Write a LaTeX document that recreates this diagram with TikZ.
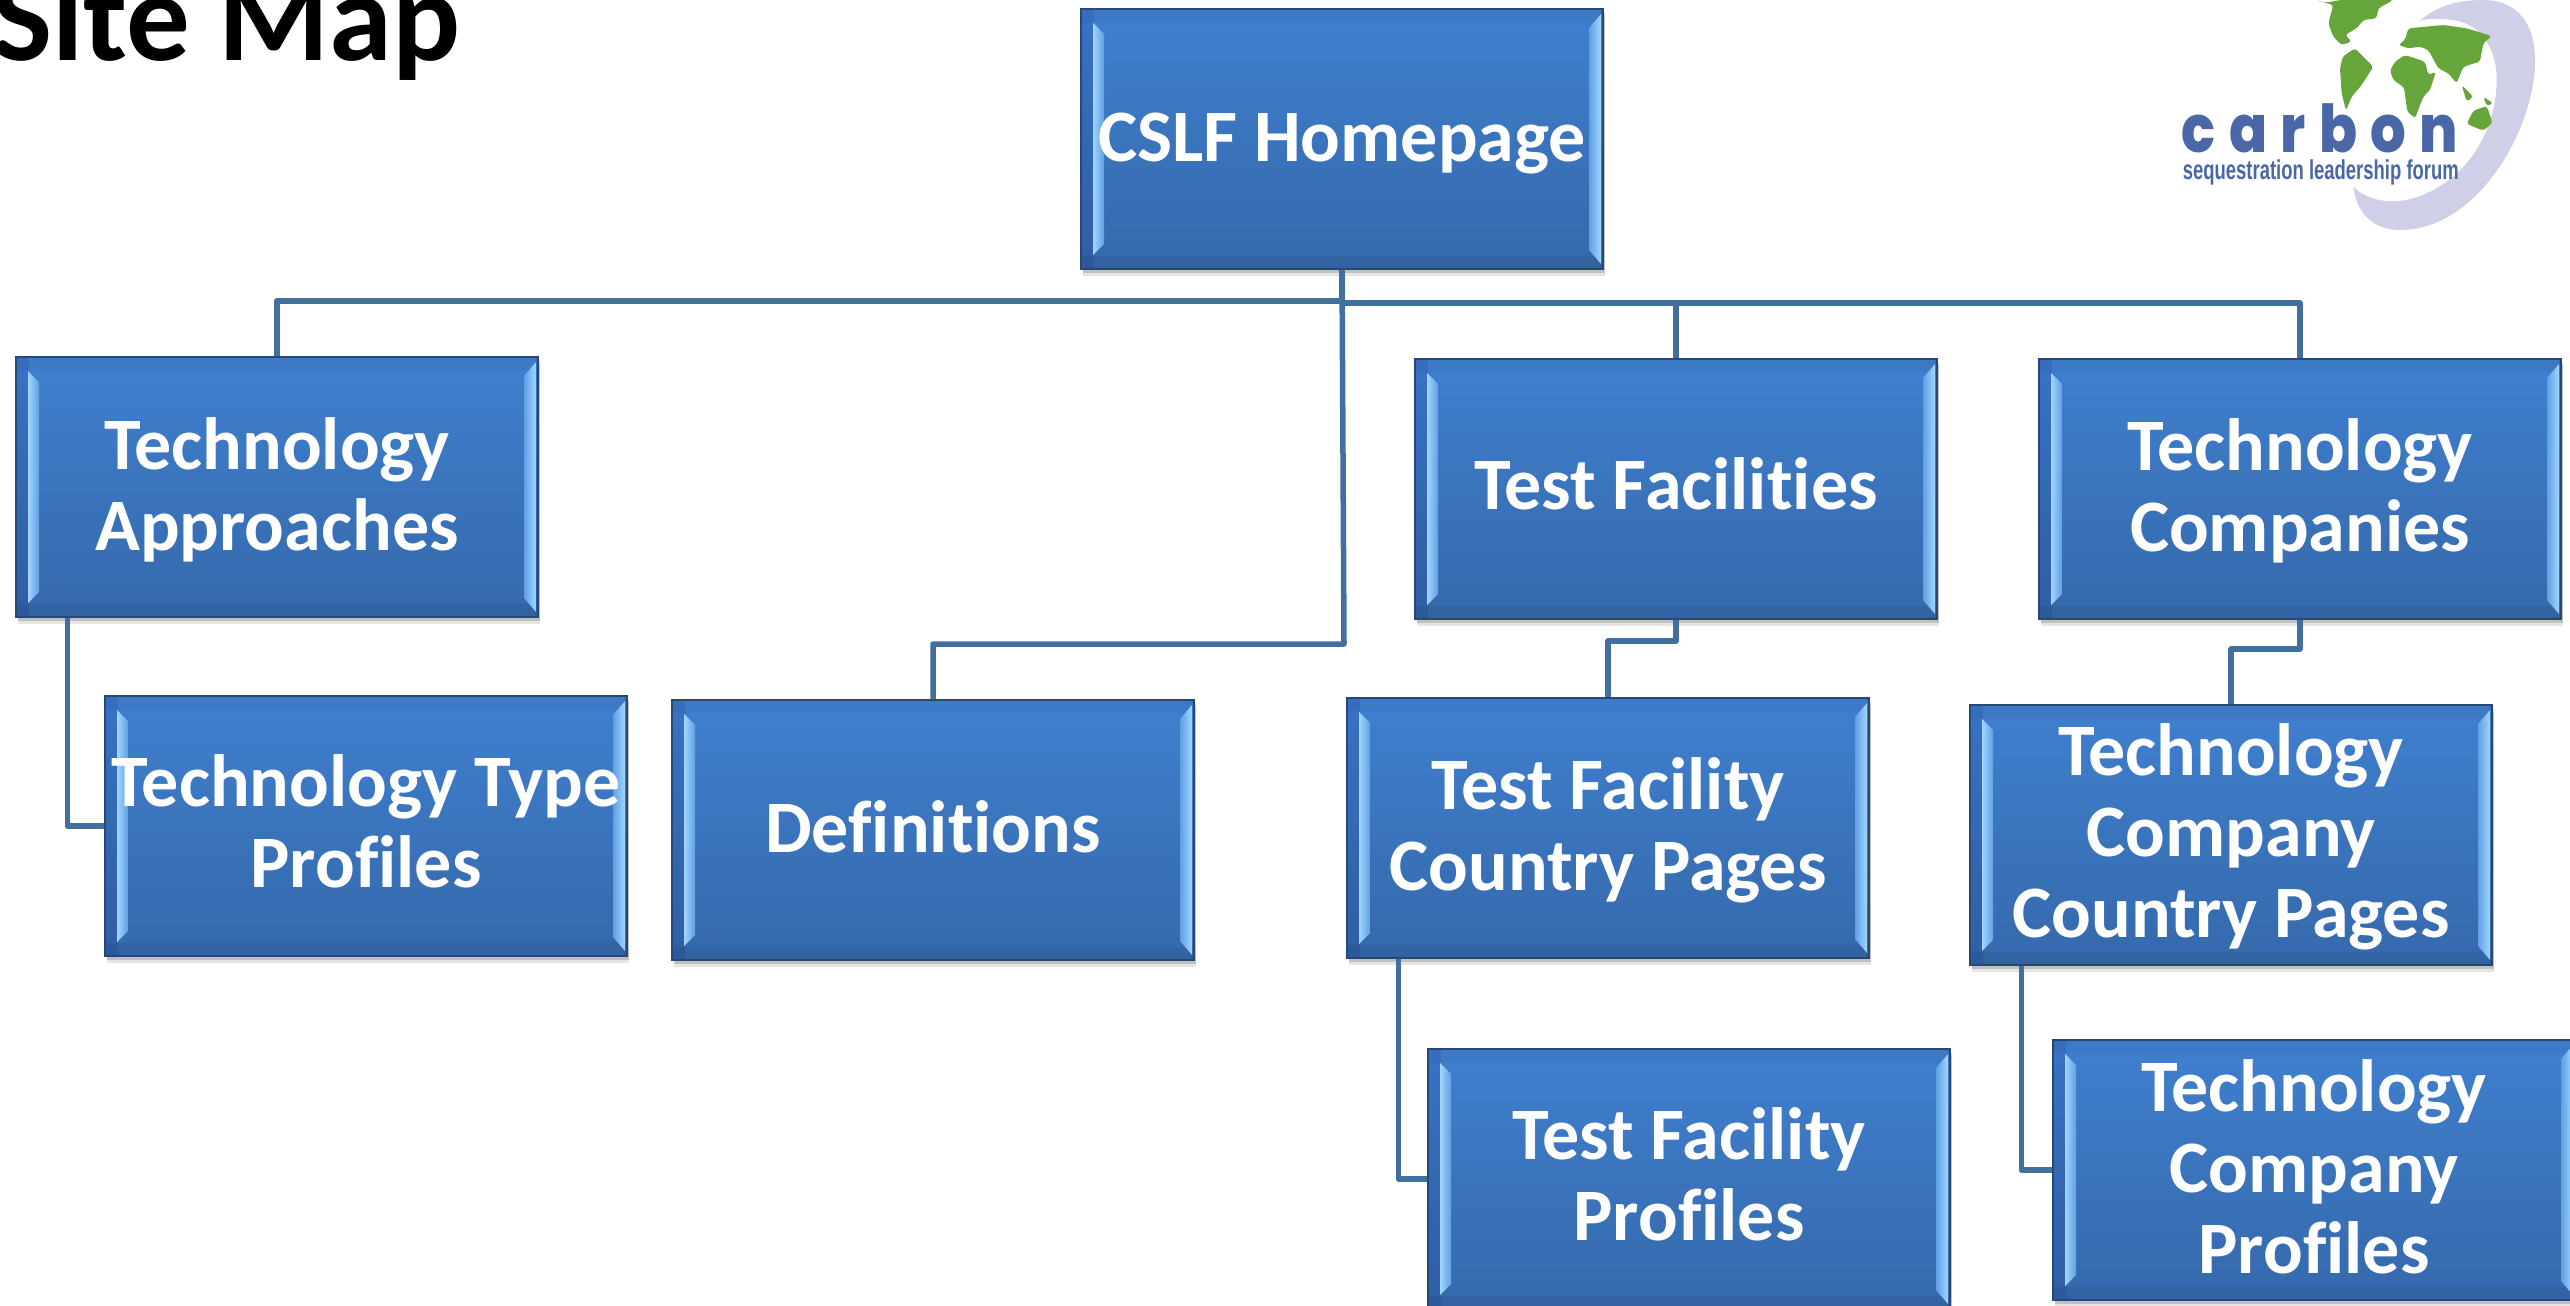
\documentclass[tikz,border=0pt]{standalone}
\usepackage{fontspec}
\setmainfont[Ligatures=NoCommon]{Carlito}
\newfontfamily\logofont[LetterSpace=24]{Poppins ExtraBold}
\newfontfamily\logosub{Liberation Sans Bold}
\usetikzlibrary{shadows,calc}
\definecolor{linkblue}{HTML}{41709F}
\definecolor{edgeblue}{HTML}{2F5A8E}
\definecolor{leafgreen}{HTML}{66A53A}
\definecolor{logoblue}{HTML}{4A68A8}
\definecolor{ringlilac}{HTML}{CFCFE8}
\definecolor{sa}{HTML}{2F5E9A}
\definecolor{sb}{HTML}{3060A0}
\definecolor{sc}{HTML}{3363A4}
\definecolor{sd}{HTML}{3A74BC}
\definecolor{se}{HTML}{4182D4}
\definecolor{sf}{HTML}{3C7CCB}
\definecolor{sg}{HTML}{3A77C2}
\definecolor{stripbright}{HTML}{A0D6FF}
\definecolor{stripmid}{HTML}{5F9FE2}
\pgfdeclareverticalshading{boxshade}{100bp}{
  color(0bp)=(sa);
  color(8bp)=(sb);
  color(12bp)=(sc);
  color(50bp)=(sd);
  color(80bp)=(se);
  color(90bp)=(sf);
  color(95bp)=(sg);
  color(100bp)=(sg)}
\tikzset{
  x=1pt,y=-1pt,
  sitebox/.style={
    rectangle,draw=edgeblue!80!black,line width=1.2pt,
    minimum width=522pt,minimum height=260pt,inner sep=0pt,
    shading=boxshade,
    drop shadow={shadow xshift=2pt,shadow yshift=-7pt,fill=black,opacity=.10},
    drop shadow={shadow xshift=2pt,shadow yshift=-4pt,fill=black,opacity=.16},
    path picture={
      \coordinate (sw) at (path picture bounding box.south west);
      \coordinate (ne) at (path picture bounding box.north east);
      \fill[blue!40!black,opacity=.10] (sw) rectangle ($(sw|-ne)+(13pt,0)$);
      \fill[blue!40!black,opacity=.10] (ne) rectangle ($(ne|-sw)+(-3pt,0)$);
      \fill[black,opacity=.04] (sw|-ne) rectangle ($(ne)+(0,-13pt)$);
      \fill[black,opacity=.06] (sw) rectangle ($(ne|-sw)+(0,13pt)$);
      \shade[left color=stripbright,right color=stripmid]
        ($(sw|-ne)+(12pt,-14pt)$) -- ($(sw|-ne)+(23pt,-25pt)$)
        -- ($(sw)+(23pt,25pt)$) -- ($(sw)+(12pt,14pt)$) -- cycle;
      \shade[left color=stripmid,right color=stripbright]
        ($(ne)+(-2pt,-5pt)$) -- ($(ne)+(-14pt,-19pt)$)
        -- ($(ne|-sw)+(-14pt,19pt)$) -- ($(ne|-sw)+(-2pt,5pt)$) -- cycle;
    }
  },
  boxlabel/.style={
    align=center,text=white,inner sep=0pt,
    font=\fontsize{74}{81}\selectfont\bfseries},
  linkline/.style={draw=linkblue,line width=5.5pt,line join=round},
  titletext/.style={anchor=base west,inner sep=0pt,font=\fontsize{127}{130}\selectfont\bfseries,text=black},
}
\begin{document}
\begin{tikzpicture}
\useasboundingbox (0,0) rectangle (2570,1306);
\clip (0,0) rectangle (2570,1306);

% logo
\begin{scope}[shift={(2100,0)},x=0.3333pt,y=-0.3333pt]
  \fill[ringlilac]
    (960,62) .. controls (1020,10) and (1090,0) .. (1150,0)
    .. controls (1260,0) and (1310,80) .. (1305,200)
    .. controls (1295,400) and (1130,690) .. (900,690)
    .. controls (820,690) and (770,640) .. (760,560)
    .. controls (800,600) and (860,610) .. (920,600)
    .. controls (1090,560) and (1190,400) .. (1190,240)
    .. controls (1190,130) and (1130,70) .. (1060,60)
    .. controls (1020,55) and (990,55) .. (960,62) -- cycle;
  \fill[leafgreen,rounded corners=3pt]
    (650,0) -- (680,8) -- (720,0) -- (880,0) -- (835,25) -- (830,55) -- (790,60) -- (770,85) -- (735,105) -- (755,125) -- (725,135)
    -- (700,110) -- (685,70) -- (700,15) -- cycle;
  \fill[leafgreen,rounded corners=3pt]
    (728,170) -- (765,145) -- (790,170) -- (820,200) -- (785,255) -- (755,290) -- (738,332) -- (725,280) -- (720,205) -- cycle;
  \fill[leafgreen,rounded corners=3pt]
    (870,212) -- (885,185) -- (915,165) -- (975,185) -- (985,225) -- (1008,215) -- (990,270) -- (970,290) -- (945,355) -- (922,335) -- (912,262) -- (880,240) -- cycle;
  \fill[leafgreen,rounded corners=3pt]
    (895,135) -- (915,120) -- (925,85) -- (1030,75) -- (1100,85) -- (1175,108) -- (1150,130) -- (1140,185) -- (1090,200) -- (1070,250) -- (1045,220) -- (1015,205)
    -- (985,150) -- (960,140) -- (925,145) -- cycle;
  \fill[leafgreen,rounded corners=3pt]
    (1085,255) -- (1120,290) -- (1100,305) -- cycle;
  \fill[leafgreen,rounded corners=3pt]
    (1150,290) -- (1180,310) -- (1160,318) -- cycle;
  \fill[leafgreen,rounded corners=3pt]
    (1100,372) -- (1120,332) -- (1160,318) -- (1178,368) -- (1150,392) -- cycle;
  \node[anchor=base west,inner sep=0pt,text=logoblue] (logoname) at (244,458)
    {\scalebox{0.85}[1]{\logofont\fontsize{66}{66}\selectfont carbon}};
  \node[anchor=base west,inner sep=0pt,text=logoblue] (logosubline) at (248,540)
    {\scalebox{0.71}[1.05]{\logosub\fontsize{26}{26}\selectfont sequestration leadership forum}};
\end{scope}

% title
\node[titletext] (title) at (-8,60) {Site Map};

% boxes (centres in pixels)
\node[sitebox] (home)  at (1342,139) {};
\node[sitebox] (ta)    at (277,487)  {};
\node[sitebox] (tf)    at (1676,489) {};
\node[sitebox] (tc)    at (2300,489) {};
\node[sitebox] (ttp)   at (366,826)  {};
\node[sitebox] (defs)  at (933,830)  {};
\node[sitebox] (tfcp)  at (1608,828) {};
\node[sitebox] (tccp)  at (2231,835) {};
\node[sitebox] (tfp)   at (1689,1179){};
\node[sitebox] (tcp)   at (2314,1170){};

% box texts
\node[boxlabel] (homet) at ([yshift=-5pt]home.center) {CSLF Homepage};
\node[boxlabel] (tat)   at ([yshift=-3pt]ta.center)   {Technology\\Approaches};
\node[boxlabel] (tft)   at ([yshift=5pt]tf.center)    {Test Facilities};
\node[boxlabel] (tct)   at ([yshift=-2pt]tc.center)   {Technology\\Companies};
\node[boxlabel] (ttpt)  at ([yshift=5pt]ttp.center)   {Technology Type\\Profiles};
\node[boxlabel] (defst) at ([yshift=3pt]defs.center)  {Definitions};
\node[boxlabel] (tfcpt) at ([yshift=-2pt]tfcp.center) {Test Facility\\Country Pages};
\node[boxlabel] (tccpt) at ([yshift=-2pt]tccp.center) {Technology\\Company\\Country Pages};
\node[boxlabel] (tfpt)  at ([yshift=5pt]tfp.center)   {Test Facility\\Profiles};
\node[boxlabel] (tcpt)  at ([yshift=3pt]tcp.center)   {Technology\\Company\\Profiles};

% connectors
\coordinate (busl) at (1342,301);
\coordinate (busr) at (1342,303);
\coordinate (busd) at (1344,644);
\coordinate (tfbus) at (1676,641);
\coordinate (tcbus) at (2300,649);
\coordinate (taout) at ($(ta.south west)+(52,0)$);
\coordinate (tfcpout) at ($(tfcp.south west)+(52,0)$);
\coordinate (tccpout) at ($(tccp.south west)+(52,0)$);
\draw[linkline] (home.south) -- (busl) -| (ta.north);
\draw[linkline] (home.south) -- (busr) -| (tf.north);
\draw[linkline] (busr) -| (tc.north);
\draw[linkline] (home.south) -- (busd) -| (defs.north);
\draw[linkline] (tf.south) -- (tfbus) -| (tfcp.north);
\draw[linkline] (tc.south) -- (tcbus) -| (tccp.north);
\draw[linkline] (taout) |- (ttp.west);
\draw[linkline] (tfcpout) |- (tfp.west);
\draw[linkline] (tccpout) |- (tcp.west);
\end{tikzpicture}
\end{document}
